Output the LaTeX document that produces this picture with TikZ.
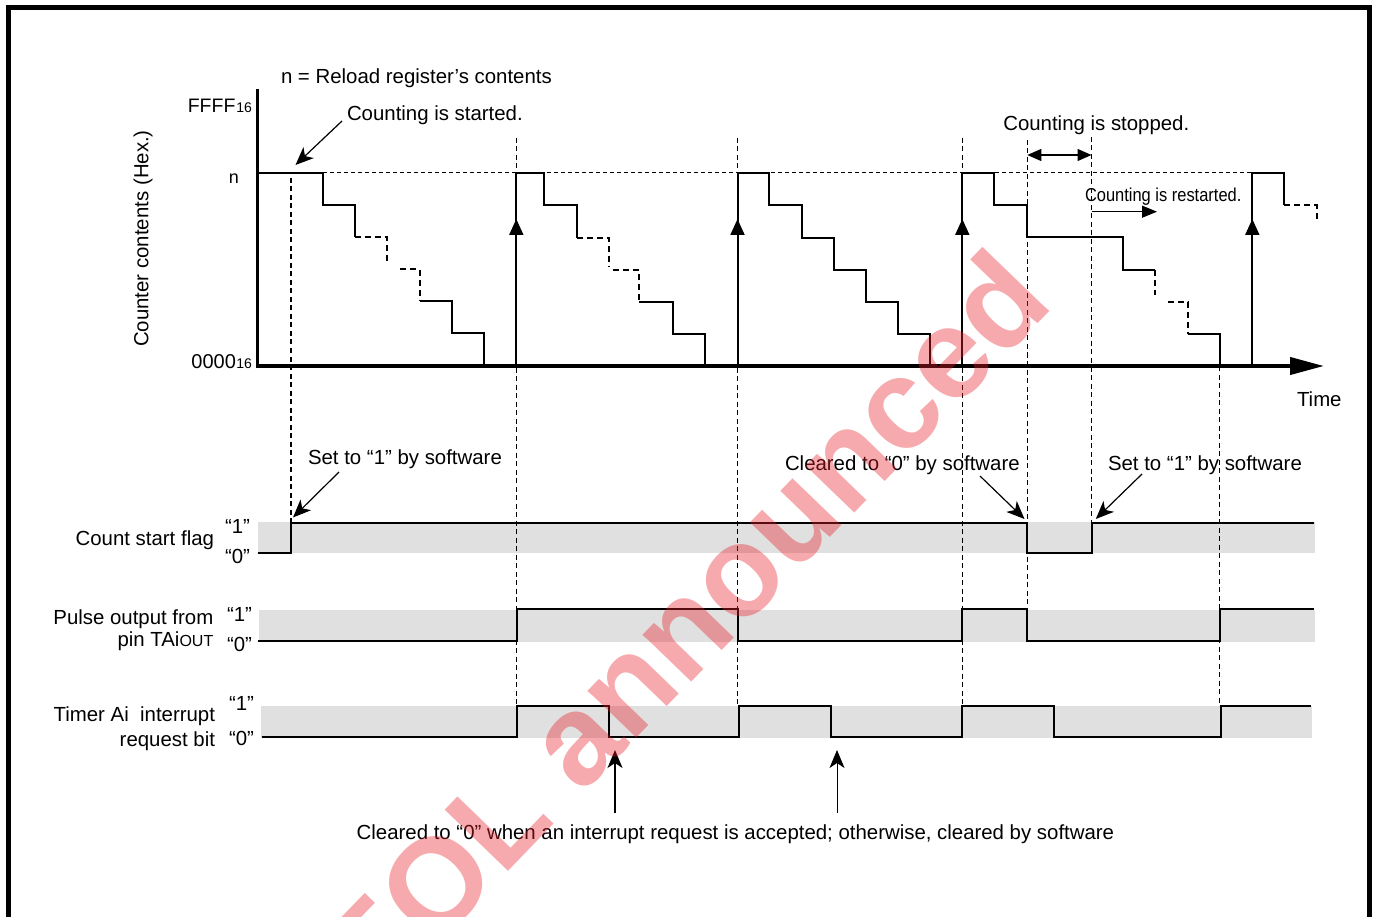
\documentclass[tikz,border=0pt]{standalone}
\usepackage{fontspec}
\setmainfont{Liberation Sans}
\usetikzlibrary{arrows.meta}
\newcommand{\fsz}[1]{\fontsize{#1}{#1}\selectfont}
\definecolor{band}{RGB}{224,224,224}
\definecolor{wm}{RGB}{232,32,40}
\begin{document}
\begin{tikzpicture}[x=1pt,y=-1pt,
  lbl/.style={inner sep=0pt,outer sep=0pt,font=\fsz{20.4}},
  sig/.style={line width=2pt,line join=miter},
  vdash/.style={line width=1.1pt,dash pattern=on 5pt off 3.5pt},
  stepdash/.style={line width=2pt,dash pattern=on 6pt off 4pt},
  tri/.style={-{Triangle[length=16pt,width=14pt]}},
  stl/.style={-{Stealth[length=18pt,width=15pt,inset=5pt]}},
  dbl/.style={{Triangle[length=14pt,width=12pt]}-{Triangle[length=14pt,width=12pt]}},
]
\useasboundingbox (0,0) rectangle (1379,917);
% frame
\draw[line width=5pt,line join=miter] (8.5,940) -- (8.5,7.5) -- (1369,7.5) -- (1369,940);
% grey bands
\fill[band] (258,522) rectangle (1315,553);
\fill[band] (259,609.5) rectangle (1315,642);
\fill[band] (261,706) rectangle (1312,738);
% dashed guide lines
\draw[vdash] (291,178) -- (291,522);
\draw[vdash] (516.3,138) -- (516.3,706);
\draw[vdash] (737.5,138) -- (737.5,706);
\draw[vdash] (962.3,138) -- (962.3,706);
\draw[vdash] (1027.3,140) -- (1027.3,609);
\draw[vdash] (1091.5,137) -- (1091.5,522);
\draw[vdash] (1219.5,366) -- (1219.5,706);
\draw[line width=1pt,dash pattern=on 4pt off 3pt] (323,173) -- (1252,173);
% axes
\draw[line width=3pt] (257.5,89) -- (257.5,367);
\draw[line width=4pt,-{Triangle[length=34pt,width=17pt]}] (256,366) -- (1324,366);
% staircase 1
\draw[sig] (257.5,173) -- (323,173) -- (323,205.5) -- (355,205.5) -- (355,237);
\draw[stepdash] (355,237) -- (387,237) -- (387,262);
\draw[stepdash] (400,269.5) -- (419.5,269.5) -- (419.5,301);
\draw[sig] (419.5,301) -- (451.5,301) -- (451.5,333.5) -- (483.5,333.5) -- (483.5,366);
% reload 1
\draw[sig,tri] (516.3,366) -- (516.3,219);
\draw[sig] (516.3,222) -- (516.3,173) -- (544,173) -- (544,205.5) -- (576.7,205.5) -- (576.7,238);
\draw[stepdash] (576.7,238) -- (609,238) -- (609,266);
\draw[stepdash] (612.7,270.5) -- (639,270.5) -- (639,302);
\draw[sig] (639,302) -- (672.7,302) -- (672.7,334) -- (705,334) -- (705,366);
% reload 2
\draw[sig,tri] (737.5,366) -- (737.5,219);
\draw[sig] (737.5,222) -- (737.5,173) -- (769,173) -- (769,205.5) -- (801.7,205.5) -- (801.7,238) -- (833.5,238) -- (833.5,270) -- (865.7,270) -- (865.7,302) -- (897.7,302) -- (897.7,334) -- (930.3,334) -- (930.3,366);
% reload 3
\draw[sig,tri] (962.3,366) -- (962.3,219);
\draw[sig] (962.3,222) -- (962.3,173) -- (994.3,173) -- (994.3,205.5) -- (1027.3,205.5) -- (1027.3,237.3) -- (1122.7,237.3) -- (1122.7,270) -- (1155,270);
\draw[stepdash] (1155,270) -- (1155,295);
\draw[stepdash] (1168,302) -- (1188.3,302) -- (1188.3,334);
\draw[sig] (1188.3,334) -- (1219.5,334) -- (1219.5,366);
% reload 4
\draw[sig,tri] (1252.3,366) -- (1252.3,219);
\draw[sig] (1252.3,222) -- (1252.3,173) -- (1284.3,173) -- (1284.3,205.5);
\draw[stepdash] (1284.3,205.5) -- (1316.7,205.5) -- (1316.7,221);
% signals
\draw[sig] (257.5,553) -- (290.7,553) -- (290.7,522.7) -- (1027.3,522.7) -- (1027.3,553) -- (1091.5,553) -- (1091.5,522.7) -- (1314,522.7);
\draw[sig] (258,640.7) -- (516.7,640.7) -- (516.7,609.3) -- (737.5,609.3) -- (737.5,640.7) -- (962.3,640.7) -- (962.3,609.3) -- (1027.3,609.3) -- (1027.3,640.7) -- (1220,640.7) -- (1220,609.3) -- (1314,609.3);
\draw[sig] (261.5,737) -- (516.7,737) -- (516.7,706) -- (608.7,706) -- (608.7,737) -- (738.8,737) -- (738.8,706) -- (830.6,706) -- (830.6,737) -- (961.7,737) -- (961.7,706) -- (1053.6,706) -- (1053.6,737) -- (1221,737) -- (1221,706) -- (1311,706);
% top labels
\node[lbl,anchor=base west] (reload) at (281,84) {n = Reload register’s contents};
\node[lbl,anchor=base west] (started) at (347,121) {Counting is started.};
\coordinate (startedfrom) at (342,121);
\coordinate (startedtip) at (295.5,165);
\draw[line width=1.2pt,stl] (startedfrom) -- (startedtip);
\node[lbl,anchor=base east] (ffff) at (252,113) {\fsz{19.5}FFFF\kern1pt\fsz{14}16};
\node[lbl,anchor=base east] (nlbl) at (239,184) {\fsz{18}n};
\node[lbl,anchor=base east] (zero) at (252,368.3) {\fsz{20}0000\kern0.5pt\fsz{14}16};
\node[lbl,rotate=90,anchor=base] (ylab) at (148.3,238.5) {Counter contents (Hex.)};
\node[lbl,anchor=base west] (time) at (1297,406) {Time};
\node[lbl,anchor=base west] (stopped) at (1003.3,131) {Counting is stopped.};
\coordinate (stopA) at (1027.3,155);
\coordinate (stopB) at (1091.5,155);
\draw[line width=1.2pt,dbl] (stopA) -- (stopB);
\node[lbl,anchor=base west] (restarted) at (1085,201.7) {\fsz{18.7}\scalebox{0.88}[1]{Counting is restarted.}};
\coordinate (restA) at (1091.5,211.7);
\coordinate (restB) at (1157,211.7);
\draw[line width=1.2pt,-{Triangle[length=15pt,width=12pt]}] (restA) -- (restB);
% middle annotations
\node[lbl,anchor=base west] (set1) at (308,464) {Set to “1” by software};
\coordinate (set1from) at (339,472);
\coordinate (set1tip) at (293,517.5);
\draw[line width=1.2pt,stl] (set1from) -- (set1tip);
\node[lbl,anchor=base west] (clr) at (785,470) {Cleared to “0” by software};
\coordinate (clrfrom) at (980,476);
\coordinate (clrtip) at (1024.5,519);
\draw[line width=1.2pt,stl] (clrfrom) -- (clrtip);
\node[lbl,anchor=base west] (set2) at (1108,470) {Set to “1” by software};
\coordinate (set2from) at (1142,474);
\coordinate (set2tip) at (1095.8,519);
\draw[line width=1.2pt,stl] (set2from) -- (set2tip);
% signal labels
\node[lbl,anchor=base east] (csf) at (214,545) {Count start flag};
\node[lbl,anchor=base west] (c1) at (225,533) {“1”};
\node[lbl,anchor=base west] (c0) at (225,563) {“0”};
\node[lbl,anchor=base east] (po1) at (213.3,624.3) {Pulse output from};
\node[lbl,anchor=base east] (po2) at (213.3,646.7) {pin TAi{\fsz{16}OUT}};
\node[lbl,anchor=base west] (p1) at (227,621.7) {“1”};
\node[lbl,anchor=base west] (p0) at (227,651.7) {“0”};
\node[lbl,anchor=base east] (ti1) at (215,721.7) {Timer Ai\ \ interrupt};
\node[lbl,anchor=base east] (ti2) at (215,746) {request bit};
\node[lbl,anchor=base west] (t1) at (229,710) {“1”};
\node[lbl,anchor=base west] (t0) at (229,745) {“0”};
% bottom
\coordinate (b1from) at (615,813);
\coordinate (b1tip) at (615,750);
\coordinate (b2from) at (837,813);
\coordinate (b2tip) at (837,750);
\draw[line width=2pt,stl] (b1from) -- (b1tip);
\draw[line width=1pt,stl] (b2from) -- (b2tip);
\node[lbl,anchor=base west] (bottom) at (356.7,839.3) {Cleared to “0” when an interrupt request is accepted; otherwise, cleared by software};
% watermark
\node[inner sep=0pt,rotate=46,text=wm,text opacity=0.38,font=\fsz{128}\bfseries] (wmk) at (682,626) {EOL announced};
\end{tikzpicture}
\end{document}
